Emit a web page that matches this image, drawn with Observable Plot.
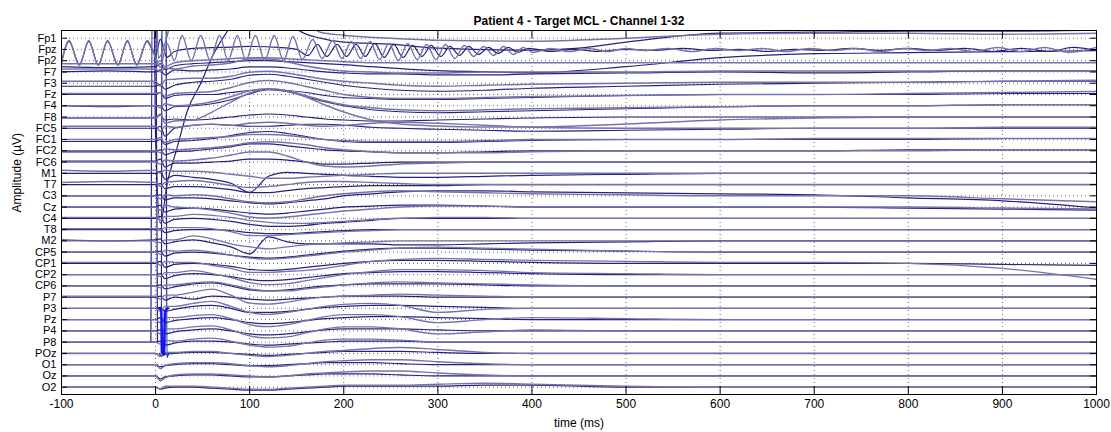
<!DOCTYPE html>
<html><head><meta charset="utf-8">
<script src="https://cdn.jsdelivr.net/npm/d3@7"></script>
<script src="https://cdn.jsdelivr.net/npm/@observablehq/plot@0.6"></script>
<style>
body{margin:0;background:#fff;}
#chart svg{display:block;}
</style></head><body><div id="chart"></div>
<script>
const title = "Patient 4 - Target MCL - Channel 1-32";
const yLabel = "Amplitude (\u00b5V)";
const channels = ["Fp1","Fpz","Fp2","F7","F3","Fz","F4","F8","FC5","FC1","FC2","FC6","M1","T7","C3","Cz","C4","T8","M2","CP5","CP1","CP2","CP6","P7","P3","Pz","P4","P8","POz","O1","Oz","O2"];
const xTicks = [-100,0,100,200,300,400,500,600,700,800,900,1000];
const times = [-100,-50,0,5,10,20,40,60,80,100,120,140,160,180,200,230,260,300,350,400,500,600,700,800,900,1000];

// deviations from each channel's baseline (µV), dark condition
const darkTraces = [
  null,
  null,
  [-6,-7,-6,-3,-9,-5,-3,-2,-1,0,0,-1,-2,-3,-4,-6,-8,-10,-11,-12,-6,3,7,8,9,10],
  [0,1,0,2,-3,2,1,2,3,5,5,4,2,0,-1,-2,-2,-3,-3,-2,-1,0,-1,0,1,1],
  [-3,-3,-3,-1,-6,-2,1,2,4,8,9,7,4,1,-2,-5,-7,-8,-7,-5,-3,-1,0,1,2,2],
  [0,0,0,2,-4,-1,0,0,2,4,5,4,2,-1,-3,-4,-5,-5,-4,-3,-1,0,0,0,1,1],
  [0,-1,0,0,-5,-1,0,2,6,12,16,14,9,4,0,-4,-6,-7,-6,-5,-3,-1,0,0,1,1],
  [-1,-1,-1,2,-3,-2,-3,-2,0,2,3,2,0,-2,-3,-4,-4,-3,-2,-1,0,0,0,0,0,0],
  [0,0,0,2,-8,0,3,4,3,2,2,3,4,4,3,1,0,-1,-2,-3,-2,-1,0,0,0,0],
  [-2,-2,-2,0,-5,-2,-1,1,4,7,8,6,3,0,-2,-3,-3,-3,-2,-1,0,0,0,0,1,1],
  [-1,-1,-1,1,-4,-1,0,2,4,7,7,5,3,1,0,-1,-2,-2,-1,0,0,0,0,1,1,1],
  [1,1,1,3,-5,-1,-1,0,1,3,3,2,0,-2,-2,-1,0,0,0,0,0,0,0,0,0,0],
  [0,0,0,2,-6,-2,-4,-6,-10,-19,-3,1,0,-1,-2,-3,-4,-4,-3,-2,-1,0,0,0,0,0],
  [0,0,0,1,-4,-2,-2,-3,-5,-8,-8,-6,-4,-3,-2,-1,-1,-1,0,0,0,0,0,0,0,0],
  [0,0,0,1,-4,-2,-2,-3,-5,-7,-8,-7,-5,-3,0,2,4,5,5,4,3,2,1,-2,-5,-12],
  [0,0,0,2,-5,-2,-1,-2,-4,-6,-7,-6,-4,-2,0,1,2,2,1,0,0,0,0,-1,-2,-3],
  [0,0,0,2,-5,-1,0,-1,-3,-6,-8,-8,-7,-5,-4,-2,0,0,0,0,0,0,0,0,0,0],
  [0,0,0,1,-3,-1,0,0,-1,-3,-4,-4,-3,-2,-1,0,0,0,0,0,0,0,0,0,0,0],
  [1,0,1,2,-3,-1,1,-2,-6,-13,4,-1,-3,-3,-3,-3,-4,-4,-3,-2,-1,0,0,0,0,0],
  [0,0,0,1,-4,-1,0,-1,-3,-5,-6,-5,-3,-1,1,3,4,4,3,2,1,0,0,0,0,0],
  [0,0,0,2,-4,-1,0,-1,-3,-6,-7,-6,-4,-2,0,2,3,3,2,1,0,0,0,0,-1,-2],
  [0,0,0,1,-4,-1,1,0,-2,-5,-6,-5,-3,-1,1,2,3,3,2,1,0,0,0,0,0,0],
  [0,0,0,1,-3,-1,2,3,0,-4,-5,-4,-2,0,1,2,2,2,1,0,0,0,0,0,0,0],
  [0,0,0,1,-3,0,-2,1,0,-2,-3,-2,-1,0,1,1,1,0,0,0,0,0,0,0,0,0],
  [0,0,0,1,-3,-1,2,3,0,-4,-4,-3,-1,1,2,3,3,2,1,0,0,0,0,0,0,0],
  [0,0,0,2,-3,-1,1,2,0,-3,-4,-3,-1,1,2,3,3,2,1,0,0,0,0,0,0,0],
  [0,0,0,1,-3,-1,1,2,0,-3,-4,-3,-1,1,2,2,2,1,0,0,0,0,0,0,0,0],
  [0,0,0,1,-3,-1,1,1,0,-2,-3,-2,-1,0,1,1,1,0,0,0,0,0,0,0,0,0],
  [0,0,0,-3,-1,0,1,1,0,-1,-2,-1,0,1,2,2,2,1,0,0,0,0,0,0,0,0],
  [0,0,0,-2,-1,0,1,1,0,-1,-1,0,1,2,2,2,1,0,0,0,0,0,0,0,0,0],
  [0,0,0,-3,-1,0,1,1,0,-1,-1,0,1,2,2,2,1,0,0,0,0,0,0,0,0,0],
  [0,0,0,-2,-1,0,0,-1,-2,-3,-3,-2,-1,0,1,1,1,1,2,2,0,0,0,0,0,0]
];

// light condition
const lightTraces = [
  null,
  null,
  [-3,-3,-3,0,-6,-2,0,1,2,3,3,2,1,0,-1,-2,-2,-2,-2,-2,-2,-2,-2,-2,-2,-2],
  [3,3,3,0,4,3,6,7,9,13,13,10,6,3,1,0,-1,-1,0,0,0,1,1,1,1,1],
  [2,2,2,-3,3,4,5,5,7,11,12,10,7,4,2,0,-2,-3,-2,-1,0,1,1,1,2,3],
  [1,1,1,2,-2,1,2,3,7,12,14,12,8,4,0,-3,-4,-4,-3,-2,-1,0,0,1,2,3],
  [0,0,0,-2,2,0,1,4,9,15,17,15,10,5,1,-2,-4,-5,-4,-3,-2,-1,0,0,1,1],
  [-1,-1,-1,3,-6,-4,-3,5,15,24,28,26,20,12,5,-3,-7,-9,-10,-10,-7,-3,-1,0,0,0],
  [2,2,2,-3,2,1,3,4,3,5,6,5,3,2,3,5,6,5,3,1,0,0,0,0,1,1],
  [0,0,0,2,-3,0,1,2,3,5,5,4,2,0,-1,-2,-2,-2,-1,0,0,0,1,1,1,1],
  [0,0,0,-2,2,1,2,3,5,8,9,8,6,3,1,-1,-2,-2,-2,-1,0,0,0,0,1,1],
  [0,0,0,-2,2,1,2,4,7,10,10,6,0,-4,-5,-4,-2,-1,0,0,0,0,0,0,0,0],
  [3,2,3,0,3,2,2,1,-1,-3,-5,-5,-4,-3,-2,-1,0,0,0,0,0,0,0,0,0,0],
  [2,3,2,-2,2,3,4,2,-1,-3,-2,0,2,3,3,2,1,0,0,0,0,0,0,0,0,0],
  [0,0,0,-3,1,0,1,0,-3,-6,-7,-6,-3,0,2,4,5,4,3,2,1,0,0,0,-3,-6],
  [0,0,0,-3,2,0,-1,-3,-6,-10,-11,-10,-8,-6,-4,-2,0,1,1,0,0,0,0,0,-1,-2],
  [1,1,1,-2,2,2,4,3,1,-2,-4,-5,-5,-4,-3,-1,0,1,1,0,0,0,0,0,0,0],
  [1,1,1,-1,2,2,2,1,-2,-6,-6,-5,-4,-3,-2,-1,0,0,0,0,0,0,0,0,0,0],
  [0,0,0,-2,1,1,5,2,-3,-6,-8,-6,-4,-3,-2,-1,0,0,0,0,0,0,0,0,0,0],
  [0,0,0,-2,2,1,2,0,-3,-6,-7,-6,-4,-2,0,2,4,5,4,3,1,0,0,0,0,0],
  [1,1,1,-2,2,1,1,-2,-5,-9,-9,-8,-7,-5,-2,2,4,5,4,3,2,1,1,0,-5,-16],
  [0,0,0,-2,2,2,4,1,-3,-8,-10,-9,-6,-3,0,3,5,5,4,2,1,0,0,0,0,0],
  [0,0,0,-2,1,1,3,4,1,-3,-5,-5,-3,-1,1,3,4,3,2,1,0,0,0,0,0,0],
  [1,1,1,-2,2,2,5,8,2,-6,-7,-5,-2,0,1,2,3,2,1,0,0,0,0,0,0,0],
  [0,0,0,-3,2,2,5,7,2,-4,-6,-4,-1,2,4,5,3,-4,-1,0,0,0,0,0,0,0],
  [0,0,0,-3,2,2,4,5,1,-5,-7,-5,-1,3,5,5,3,-3,0,2,1,0,0,0,0,0],
  [0,0,0,-3,2,2,4,5,1,-5,-7,-6,-2,2,4,4,2,-3,-1,1,0,0,0,0,0,0],
  [0,0,0,-2,2,1,3,4,1,-3,-5,-4,-1,2,3,3,2,0,0,0,0,0,0,0,0,0],
  [0,0,0,-3,1,1,2,2,0,-2,-3,-2,0,2,3,5,6,4,1,0,0,0,0,0,0,0],
  [0,0,0,-4,-1,1,2,2,1,-1,-2,-1,1,3,4,5,5,3,1,0,0,0,0,0,0,0],
  [0,0,0,-5,-2,1,2,2,1,0,-1,0,2,3,4,5,5,3,1,0,0,0,0,0,0,0],
  [0,0,0,-2,1,1,1,0,-1,-2,-2,-1,0,1,2,2,2,3,4,3,1,0,0,0,0,0]
];

// frontal-pole channels, read as [time, deviation] pairs
const fp1Dark = [[-100,60],[-5,60],[-2,60],[0,-100],[5,-185],[13,-142],[19,-122],[23,-109],[34,-72],[48,-45],[62,-15],[77,8],[100,40],[130,50],[152,8],[175,0],[200,-4],[250,-6],[300,-10],[400,-12],[450,-10],[500,-4],[600,5],[700,6],[800,7],[900,7],[1000,8]];
const fp1Light = [[-100,60],[0,60],[3,-20],[10,-5],[20,30],[40,60],[150,60],[165,15],[175,6],[200,3],[250,0],[300,-2],[400,-3],[500,0],[600,4],[700,5],[800,5],[900,4],[1000,5]];
const fpzLight = [[-100,-14],[-92,9],[-81,-16],[-71,9],[-61,-16],[-51,9],[-40,-16],[-30,9],[-20,-16],[-9,9],[0,-8],[5,-18],[12,6],[20,-11],[28,14],[38,-11],[48,14],[58,-11],[68,14],[77,-11],[87,14],[96,-11],[106,14],[116,-11],[126,14],[136,-11],[146,13],[156,-10],[167,10],[177,-9],[188,9],[198,-9],[208,8],[218,-9],[228,8],[238,-10],[248,6],[258,-11],[268,6],[278,-10],[288,5],[298,-10],[308,5],[318,-9],[328,4],[338,-7],[349,3],[359,-6],[370,3],[380,-5],[391,2],[401,-3],[420,1],[440,-2],[460,1],[480,-2],[500,1],[520,-1],[545,1],[570,-2],[595,1],[620,-1],[645,1],[670,-2],[695,1],[720,-1],[745,1],[770,-2],[795,1],[820,-1],[845,1],[870,-2],[895,2],[920,-2],[945,2],[970,-3],[1000,2]];
const fpzDark = [[-100,-13],[-92,8],[-81,-15],[-71,8],[-61,-15],[-51,8],[-40,-15],[-30,8],[-20,-15],[-9,8],[0,-6],[5,10],[12,-8],[20,-2],[40,1],[70,2],[100,3],[130,2],[150,0],[162,-6],[172,5],[182,-7],[193,5],[203,-7],[213,5],[223,-7],[233,6],[243,-8],[253,5],[263,-8],[273,4],[283,-7],[293,4],[303,-7],[313,3],[323,-6],[333,3],[343,-5],[354,2],[364,-4],[375,2],[385,-3],[396,1],[420,-2],[445,0],[470,-2],[500,0],[530,-1],[560,1],[590,-1],[620,0],[650,-2],[680,0],[710,-1],[740,1],[770,-1],[800,1],[830,-1],[860,1],[890,-2],[920,1],[950,-2],[975,2],[1000,-1]];

// stimulus artifact spikes
const spikeP8 = [[-5,0],[-3,420],[0,420],[2,0]];
const spikePOz = [[4,0],[6,-3],[7,420],[11,420],[12,-4],[14,0]];
const spikeP3Bright = [[4,0],[6,-2],[7,-44],[9,-46],[10,-3],[13,0]];

const S = 11.26;               // channel spacing
const base = i => -i * S;
const yTicks = channels.map((_, i) => base(i));

const dark = [], light = [], bright = [];
function add(arr, id, ch, pts) { pts.forEach(([t, v]) => arr.push({id, t, y: base(ch) + v})); }
channels.forEach((c, i) => {
  if (darkTraces[i]) add(dark, c + "d", i, times.map((t, k) => [t, darkTraces[i][k]]));
  if (lightTraces[i]) add(light, c + "l", i, times.map((t, k) => [t, lightTraces[i][k]]));
});
add(dark, "Fp1d", 0, fp1Dark);
add(light, "Fp1l", 0, fp1Light);
add(dark, "Fpzd", 1, fpzDark);
add(light, "Fpzl", 1, fpzLight);
add(dark, "P8s", 27, spikeP8);
add(dark, "POzs", 28, spikePOz);
add(bright, "P3s", 24, spikeP3Bright);

const yTop = 7.7, yBottom = -31 * S - 7.3;
const font = "'Liberation Sans', Arial, Helvetica, sans-serif";

const chart = Plot.plot({
  width: 1111, height: 432,
  marginLeft: 61, marginRight: 15, marginTop: 30, marginBottom: 38,
  style: {fontFamily: font, fontSize: "12px", color: "#000", background: "#fff"},
  x: {domain: [-100, 1000]},
  y: {domain: [yBottom, yTop]},
  marks: [
    Plot.ruleX(xTicks, {x: d => d, stroke: "#000", strokeOpacity: 0.6, strokeDasharray: "1,3"}),
    Plot.ruleY(yTicks, {y: d => d, stroke: "#000", strokeOpacity: 0.6, strokeDasharray: "1,3"}),
    Plot.line(dark, {x: "t", y: "y", z: "id", stroke: "#23237f", strokeWidth: 1.2, curve: "monotone-x", clip: true}),
    Plot.line(light, {x: "t", y: "y", z: "id", stroke: "#7474ab", strokeWidth: 1.4, curve: "monotone-x", clip: true}),
    Plot.line(bright, {x: "t", y: "y", z: "id", stroke: "#1414f0", strokeWidth: 2.5, curve: "monotone-x", clip: true}),
    Plot.ruleX(xTicks, {x: d => d, insetTop: 356, stroke: "#000"}),
    Plot.ruleX(xTicks, {x: d => d, insetBottom: 356, stroke: "#000"}),
    Plot.ruleY(yTicks, {y: d => d, insetRight: 1029, stroke: "#000"}),
    Plot.ruleY(yTicks, {y: d => d, insetLeft: 1029, stroke: "#000"}),
    Plot.axisX({ticks: xTicks, tickSize: 0, tickPadding: 5, tickFormat: d => String(d), label: "time (ms)", labelAnchor: "center", labelArrow: "none", labelOffset: 32}),
    Plot.axisY({ticks: yTicks, tickSize: 0, tickPadding: 5, fontSize: 11, tickFormat: d => channels[Math.round(-d / S)], label: null}),
    Plot.text([yLabel], {frameAnchor: "left", dx: -44, rotate: -90, fontSize: 12, text: d => d}),
    Plot.frame({stroke: "#000"}),
    Plot.text([title], {frameAnchor: "top", dy: -14, fontWeight: "bold", fontSize: 12, text: d => d})
  ]
});
document.getElementById("chart").appendChild(chart);
</script>
</body></html>
